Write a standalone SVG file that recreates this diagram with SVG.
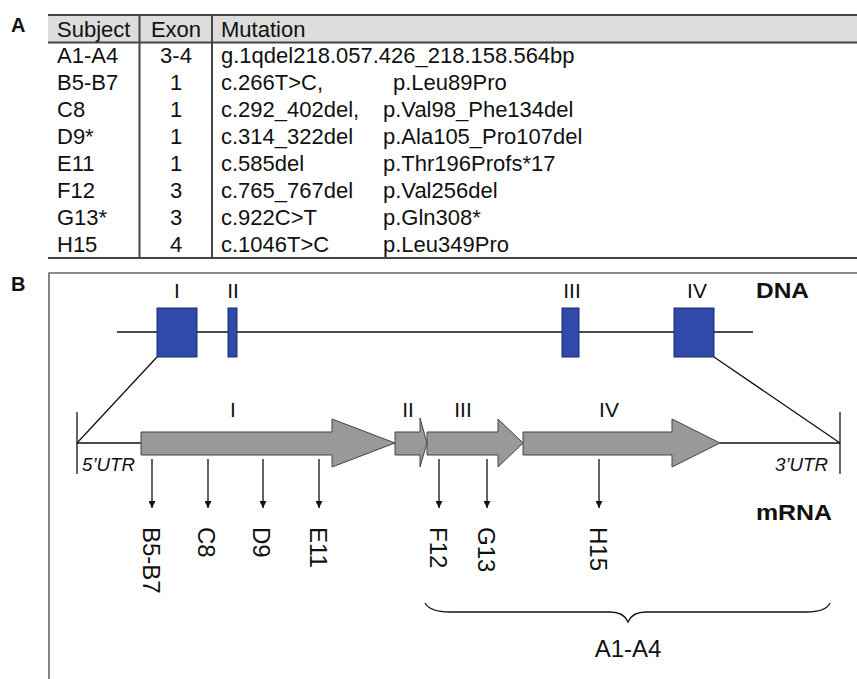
<svg xmlns="http://www.w3.org/2000/svg" width="857" height="679" viewBox="0 0 857 679">
<defs>
<style>
.t{font-family:"Liberation Sans",Arial,sans-serif;font-size:22px;fill:#111}
.lab{font-family:"Liberation Sans",Arial,sans-serif;font-size:20px;font-weight:bold;fill:#111}
.rom{font-family:"Liberation Sans",Arial,sans-serif;font-size:21px;fill:#111;text-anchor:middle}
.bold{font-family:"Liberation Sans",Arial,sans-serif;font-size:22px;font-weight:bold;fill:#111}
.utr{font-family:"Liberation Sans",Arial,sans-serif;font-size:19px;font-style:italic;fill:#111}
.rot{font-family:"Liberation Sans",Arial,sans-serif;font-size:24px;fill:#111}
.tl{stroke:#444;stroke-width:2;fill:none}
.exon{fill:#2f4aa8;stroke:#1c2a70;stroke-width:1}
.arr{fill:#999;stroke:#444;stroke-width:1}
.ln{stroke:#111;stroke-width:1.3;fill:none}
</style>
<marker id="ah" viewBox="0 0 10 10" refX="10" refY="5" markerWidth="7" markerHeight="7" markerUnits="userSpaceOnUse" orient="auto">
<path d="M0,0 L10,5 L0,10 z" fill="#111"/>
</marker>
</defs>
<rect width="857" height="679" fill="#fff"/>

<!-- Panel A -->
<g id="panelA">
<text class="lab" x="11" y="32">A</text>
<rect x="48" y="15" width="809" height="27.5" fill="#dcdcdc"/>
<line class="tl" x1="48" y1="15" x2="857" y2="15"/>
<line class="tl" x1="48" y1="42.5" x2="857" y2="42.5"/>
<line class="tl" x1="48" y1="258" x2="857" y2="258"/>
<line class="tl" x1="139.5" y1="15" x2="139.5" y2="258" stroke-width="1.5"/>
<line class="tl" x1="212" y1="15" x2="212" y2="258" stroke-width="1.5"/>
<g class="t">
<text x="57" y="37">Subject</text>
<text x="176" y="37" text-anchor="middle">Exon</text>
<text x="221" y="37">Mutation</text>
</g>
<g class="t">
<text x="57" y="63">A1-A4</text><text x="176" y="63" text-anchor="middle">3-4</text><text x="221" y="63">g.1qdel218.057.426_218.158.564bp</text>
<text x="57" y="90">B5-B7</text><text x="176" y="90" text-anchor="middle">1</text><text x="221" y="90">c.266T&gt;C,</text><text x="393" y="90">p.Leu89Pro</text>
<text x="57" y="117">C8</text><text x="176" y="117" text-anchor="middle">1</text><text x="221" y="117">c.292_402del,</text><text x="383" y="117">p.Val98_Phe134del</text>
<text x="57" y="144">D9*</text><text x="176" y="144" text-anchor="middle">1</text><text x="221" y="144">c.314_322del</text><text x="383" y="144">p.Ala105_Pro107del</text>
<text x="57" y="171">E11</text><text x="176" y="171" text-anchor="middle">1</text><text x="221" y="171">c.585del</text><text x="383" y="171">p.Thr196Profs*17</text>
<text x="57" y="198">F12</text><text x="176" y="198" text-anchor="middle">3</text><text x="221" y="198">c.765_767del</text><text x="383" y="198">p.Val256del</text>
<text x="57" y="225">G13*</text><text x="176" y="225" text-anchor="middle">3</text><text x="221" y="225">c.922C&gt;T</text><text x="383" y="225">p.Gln308*</text>
<text x="57" y="252">H15</text><text x="176" y="252" text-anchor="middle">4</text><text x="221" y="252">c.1046T&gt;C</text><text x="383" y="252">p.Leu349Pro</text>
</g>
</g>

<!-- Panel B frame -->
<g id="panelB-frame">
<text class="lab" x="11" y="291">B</text>
<polyline points="49,690 49,273 860,273" fill="none" stroke="#666" stroke-width="1.6"/>
</g>

<!-- DNA -->
<g id="dna">
<line class="ln" x1="117" y1="332" x2="753" y2="332"/>
<text class="bold" x="756" y="298" textLength="53" lengthAdjust="spacingAndGlyphs">DNA</text>
</g>
<g id="exonI-dna"><rect class="exon" x="157" y="308" width="40" height="49"/><text class="rom" x="177" y="298">I</text></g>
<g id="exonII-dna"><rect class="exon" x="228" y="308" width="9" height="49"/><text class="rom" x="233" y="298">II</text></g>
<g id="exonIII-dna"><rect class="exon" x="562" y="308" width="17" height="49"/><text class="rom" x="572" y="298">III</text></g>
<g id="exonIV-dna"><rect class="exon" x="674" y="308" width="40" height="49"/><text class="rom" x="697" y="298">IV</text></g>

<!-- mRNA -->
<g id="mrna">
<line class="ln" x1="77" y1="412" x2="77" y2="474" stroke-width="1.8"/>
<line class="ln" x1="840" y1="412" x2="840" y2="474" stroke-width="1.8"/>
<line class="ln" x1="77" y1="443" x2="141" y2="443"/>
<line class="ln" x1="720" y1="443" x2="840" y2="443"/>
<text class="utr" x="82" y="471" textLength="53" lengthAdjust="spacingAndGlyphs">5’UTR</text>
<text class="utr" x="775" y="471" textLength="53" lengthAdjust="spacingAndGlyphs">3’UTR</text>
<text class="bold" x="756" y="520" textLength="76" lengthAdjust="spacingAndGlyphs">mRNA</text>
</g>
<g id="exonI-mrna"><polygon class="arr" points="141,432 332,432 332,419 395,443 332,467 332,455 141,455"/><text class="rom" x="233" y="417">I</text></g>
<g id="exonII-mrna"><polygon class="arr" points="395,432 420,432 420,418 427,443 420,467 420,455 395,455"/><text class="rom" x="408" y="417">II</text></g>
<g id="exonIII-mrna"><polygon class="arr" points="427,432 498,432 498,419 523,443 498,467 498,455 427,455"/><text class="rom" x="463" y="417">III</text></g>
<g id="exonIV-mrna"><polygon class="arr" points="523,432 672,432 672,419 720,443 672,467 672,455 523,455"/><text class="rom" x="609" y="417">IV</text></g>

<!-- connectors -->
<g id="connectors">
<line class="ln" x1="157" y1="357" x2="77" y2="443" stroke-width="1"/>
<line class="ln" x1="714" y1="357" x2="840" y2="443" stroke-width="1"/>
<g marker-end="url(#ah)">
<line class="ln" x1="152" y1="459" x2="152" y2="508"/>
<line class="ln" x1="208" y1="459" x2="208" y2="508"/>
<line class="ln" x1="263" y1="459" x2="263" y2="508"/>
<line class="ln" x1="319" y1="459" x2="319" y2="508"/>
<line class="ln" x1="439" y1="459" x2="439" y2="508"/>
<line class="ln" x1="487" y1="459" x2="487" y2="508"/>
<line class="ln" x1="599" y1="459" x2="599" y2="508"/>
</g>
<path class="ln" d="M425,603 Q430,612 450,612 L610,612 Q624,612 628,622 Q632,612 646,612 L806,612 Q826,612 830,603" stroke-width="1.6"/>
</g>

<!-- mutation labels -->
<g id="label-B5B7"><text class="rot" transform="translate(143,527) rotate(90)">B5-B7</text></g>
<g id="label-C8"><text class="rot" transform="translate(198,527) rotate(90)">C8</text></g>
<g id="label-D9"><text class="rot" transform="translate(253,527) rotate(90)">D9</text></g>
<g id="label-E11"><text class="rot" transform="translate(310,527) rotate(90)">E11</text></g>
<g id="label-F12"><text class="rot" transform="translate(430,527) rotate(90)">F12</text></g>
<g id="label-G13"><text class="rot" transform="translate(478,527) rotate(90)">G13</text></g>
<g id="label-H15"><text class="rot" transform="translate(590,527) rotate(90)">H15</text></g>
<g id="label-A1A4"><text class="rot" x="628" y="657" text-anchor="middle">A1-A4</text></g>
</svg>
